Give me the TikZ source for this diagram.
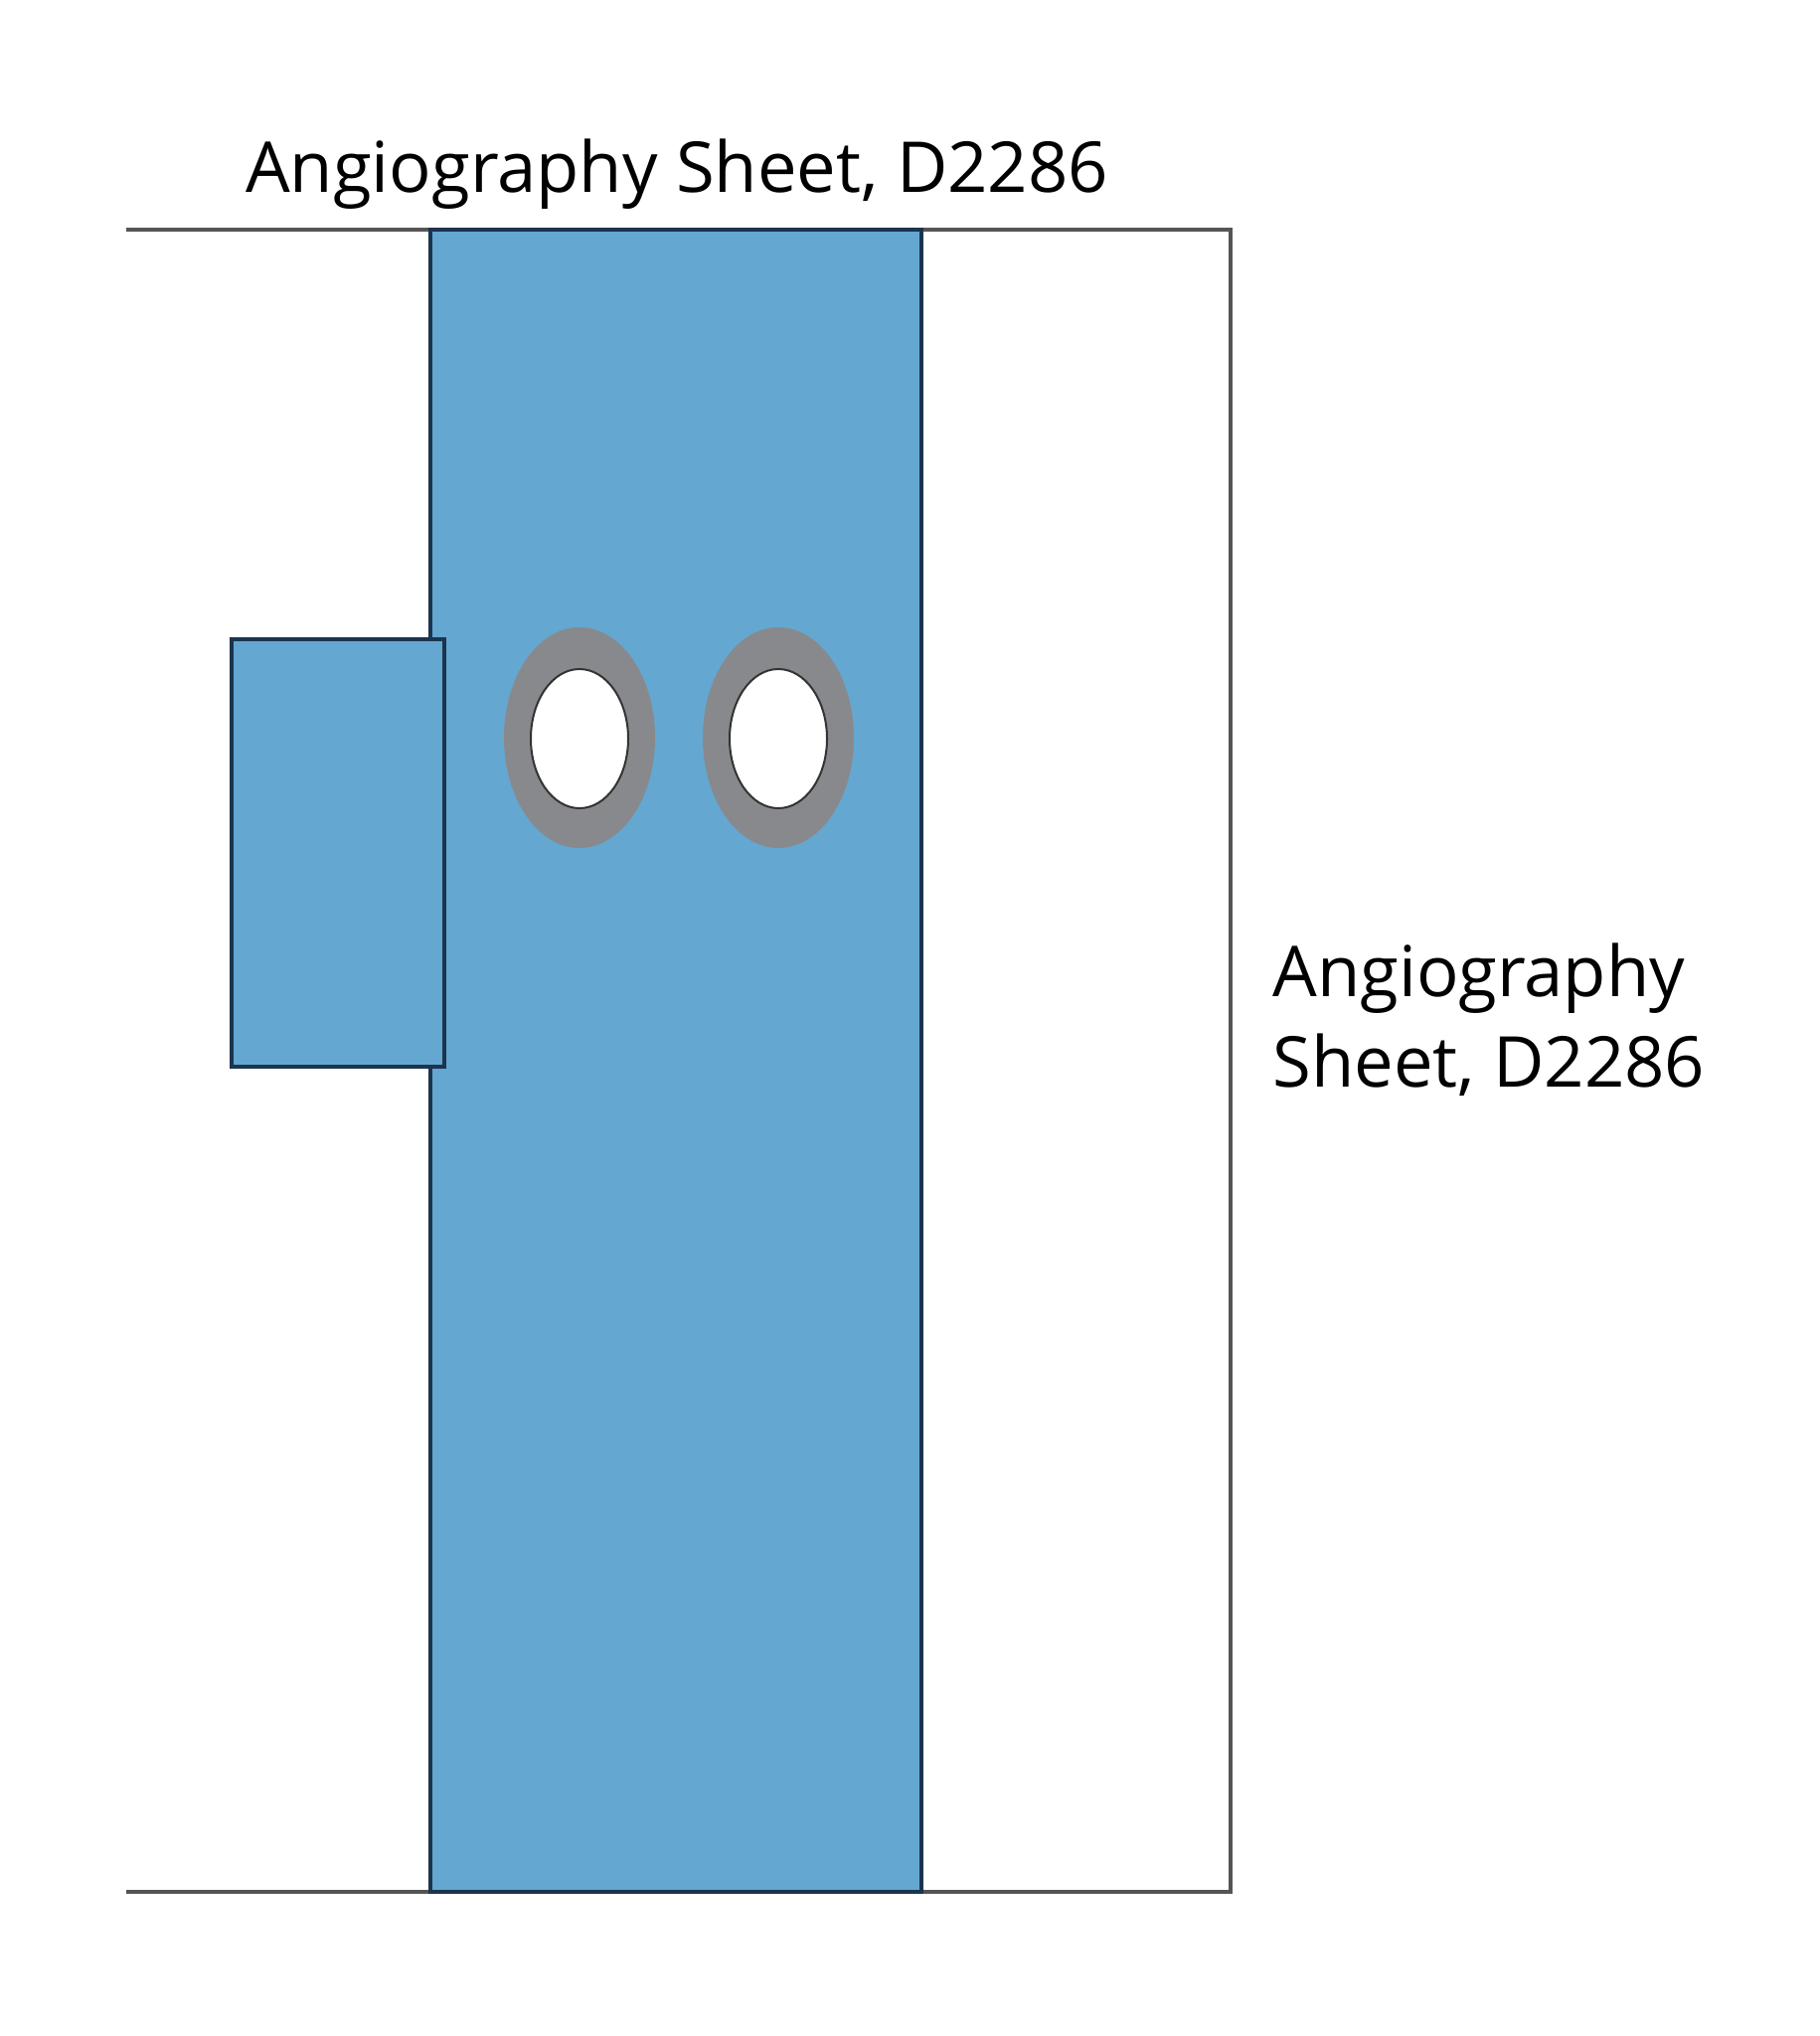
\documentclass[tikz,border=0pt]{standalone}
\usepackage{fontspec}
\setmainfont{Open Sans}
\definecolor{drapeblue}{RGB}{100,167,209}
\definecolor{edgeblue}{RGB}{28,52,78}
\definecolor{ringgray}{RGB}{136,137,140}
\definecolor{framegray}{RGB}{85,85,85}
\tikzset{
  frameline/.style={draw=framegray,line width=2.4pt,line join=miter},
  drape/.style={fill=drapeblue,draw=edgeblue,line width=1.6pt},
  ring/.style={fill=ringgray},
  hole/.style={fill=white,draw=black!80,line width=1pt},
  lbl/.style={font=\fontsize{35.3}{45.5}\selectfont,text=black,inner sep=0pt}
}
\begin{document}
\begin{tikzpicture}[x=0.5pt,y=-0.5pt]
\useasboundingbox (0,0) rectangle (1830,2048);
% outer sheet (open at left)
\draw[frameline] (127,231) -- (1238,231) -- (1238,1903) -- (127,1903);
% central blue strip
\draw[drape] (433,231) rectangle (927,1903);
% small side flap
\draw[drape] (233,643) rectangle (447,1073);
% fenestrations
\fill[ring] (583,742) ellipse [x radius=76,y radius=111];
\fill[ring] (783,742) ellipse [x radius=76,y radius=111];
\draw[hole] (583,743) ellipse [x radius=49,y radius=70];
\draw[hole] (783,743) ellipse [x radius=49,y radius=70];
% labels
\node[lbl,anchor=base] (top) at (681,194) {Angiography Sheet, D2286};
\node[lbl,anchor=base west,align=left] (side) at (1280,1093) {Angiography\\Sheet, D2286};
\end{tikzpicture}
\end{document}
